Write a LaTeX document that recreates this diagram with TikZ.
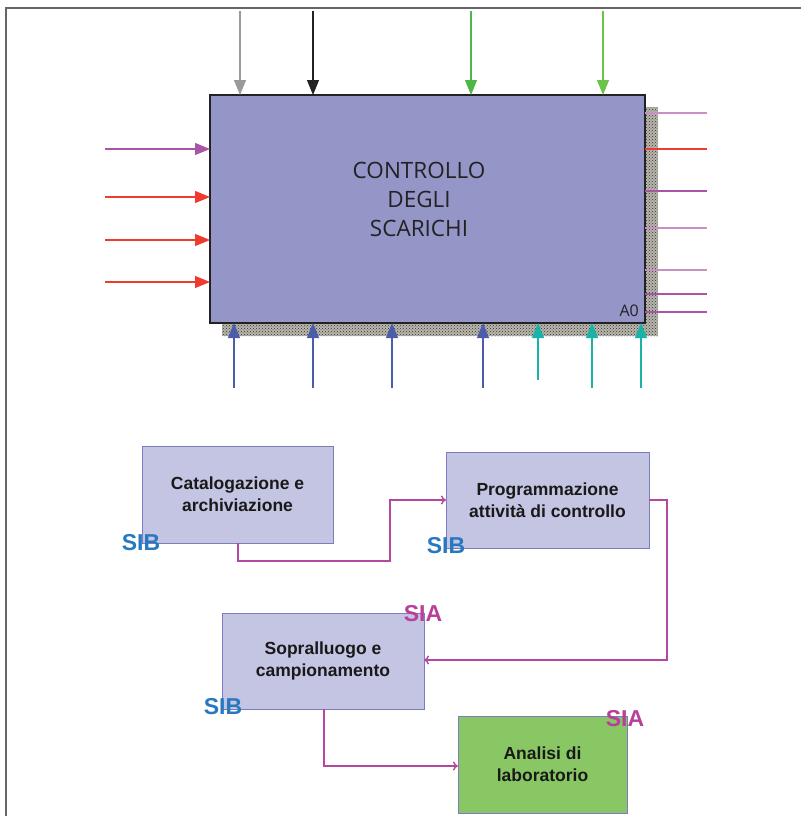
\documentclass[tikz,border=0pt]{standalone}
\usepackage{fontspec}
\setmainfont{Liberation Sans}
\newfontfamily\titlefont{Open Sans}
\usetikzlibrary{arrows.meta,patterns}
\definecolor{boxfill}{HTML}{9596C8}
\definecolor{subfill}{HTML}{C4C4E3}
\definecolor{subedge}{HTML}{7C7CC0}
\definecolor{labfill}{HTML}{88C764}
\definecolor{cpurple}{HTML}{A855A8}
\definecolor{clpurple}{HTML}{C890C4}
\definecolor{cred}{HTML}{EE3A2F}
\definecolor{cblue}{HTML}{4A5CAA}
\definecolor{cteal}{HTML}{1AB3AA}
\definecolor{cgreen}{HTML}{4DB848}
\definecolor{clgreen}{HTML}{6CC24A}
\definecolor{cgray}{HTML}{9A9A9A}
\definecolor{cblack}{HTML}{222222}
\definecolor{sibblue}{HTML}{2878C0}
\definecolor{siamag}{HTML}{B8409A}
\definecolor{conn}{HTML}{B5489E}
\definecolor{shadowgray}{HTML}{B8B6AC}
\definecolor{titletext}{HTML}{222222}
\tikzset{
  bigarrow/.style={line width=1.1pt,-{Triangle[length=15pt,width=12pt]}},
  outline/.style={line width=1.1pt},
  subbox/.style={draw=subedge,fill=subfill,line width=0.9pt,inner sep=0,outer sep=0,
    align=center,font=\bfseries\fontsize{17.5}{22}\selectfont,text=black!90},
  sib/.style={text=sibblue,font=\bfseries\fontsize{23}{23}\selectfont,inner sep=0},
  sia/.style={text=siamag,font=\bfseries\fontsize{23}{23}\selectfont,inner sep=0},
  link/.style={draw=conn,line width=1.4pt,-{To[length=5pt,width=9pt]}}
}
\begin{document}
\begin{tikzpicture}[x=1pt,y=-1pt]
\useasboundingbox (0,0) rectangle (801,816);
% frame
\draw[line width=1.2pt,black!60] (6,816) -- (6,8) -- (801,8);
% shadow
\fill[shadowgray] (222,107) rectangle (658,336);
\fill[pattern=crosshatch dots,pattern color=black!80] (222,107) rectangle (658,336);
% main box
\node[draw=cblack,fill=boxfill,line width=2.5pt,minimum width=435pt,minimum height=228pt,inner sep=0,outer sep=0] (A0) at (427.5,209) {};
\node[align=center,text=titletext,font=\titlefont\fontsize{22.5}{29}\selectfont] (title) at (419,199) {CONTROLLO\\DEGLI\\SCARICHI};
\node[text=titletext,font=\titlefont\fontsize{16}{16}\selectfont,anchor=south east,inner sep=0] (a0lbl) at (639,317) {A0};
% top arrows
\coordinate (t1) at (240,11);
\coordinate (t2) at (313,11);
\coordinate (t3) at (471,11);
\coordinate (t4) at (603,11);
\draw[bigarrow,cgray] (t1) -- (t1 |- A0.north);
\draw[bigarrow,cblack] (t2) -- (t2 |- A0.north);
\draw[bigarrow,cgreen] (t3) -- (t3 |- A0.north);
\draw[bigarrow,clgreen] (t4) -- (t4 |- A0.north);
% left arrows
\coordinate (l1) at (105,149);
\coordinate (l2) at (105,197);
\coordinate (l3) at (105,240);
\coordinate (l4) at (105,282);
\draw[bigarrow,cpurple] (l1) -- (l1 -| A0.west);
\draw[bigarrow,cred] (l2) -- (l2 -| A0.west);
\draw[bigarrow,cred] (l3) -- (l3 -| A0.west);
\draw[bigarrow,cred] (l4) -- (l4 -| A0.west);
% right lines
\foreach \yy/\cc [count=\i] in {113/clpurple,149/cred,191/cpurple,228/clpurple,270/clpurple,294/cpurple,312/cpurple}{
  \coordinate (r\i) at (707,\yy);
  \draw[outline,\cc] (r\i -| A0.east) -- (r\i);
}
% bottom arrows
\coordinate (b1) at (234,388);
\coordinate (b2) at (313,388);
\coordinate (b3) at (392,388);
\coordinate (b4) at (483,388);
\coordinate (b5) at (538,380);
\coordinate (b6) at (592,388);
\coordinate (b7) at (641,388);
\foreach \i in {1,2,3,4}{\draw[bigarrow,cblue] (b\i) -- (b\i |- A0.south);}
\foreach \i in {5,6,7}{\draw[bigarrow,cteal] (b\i) -- (b\i |- A0.south);}
% lower boxes
\node[subbox,minimum width=191pt,minimum height=97pt] (cat) at (237.5,494.5) {Catalogazione e\\archiviazione};
\node[subbox,minimum width=203pt,minimum height=96pt] (prog) at (547.5,500) {Programmazione\\attivit\`a di controllo};
\node[subbox,minimum width=202pt,minimum height=96pt] (sop) at (323,661) {Sopralluogo e\\campionamento};
\node[subbox,fill=labfill,minimum width=169pt,minimum height=97pt] (lab) at (542.5,764.5) {Analisi di\\laboratorio};
% labels
\node[sib] (sib1) at (141,543) {SIB};
\node[sib] (sib2) at (446,546) {SIB};
\node[sib] (sib3) at (223,707) {SIB};
\node[sia] (sia1) at (423,614) {SIA};
\node[sia] (sia2) at (625,719) {SIA};
% connectors
\coordinate (c1) at (238,561);
\coordinate (c2) at (390,500);
\draw[link] (cat.south -| c1) -- (c1) -| (c2) -- (prog.west |- c2);
\coordinate (c3) at (667,660);
\draw[link] (prog.east) -| (c3) -- (sop.east |- c3);
\coordinate (c4) at (324,766);
\draw[link] (sop.south -| c4) -- (c4) -- (lab.west |- c4);
\end{tikzpicture}
\end{document}
